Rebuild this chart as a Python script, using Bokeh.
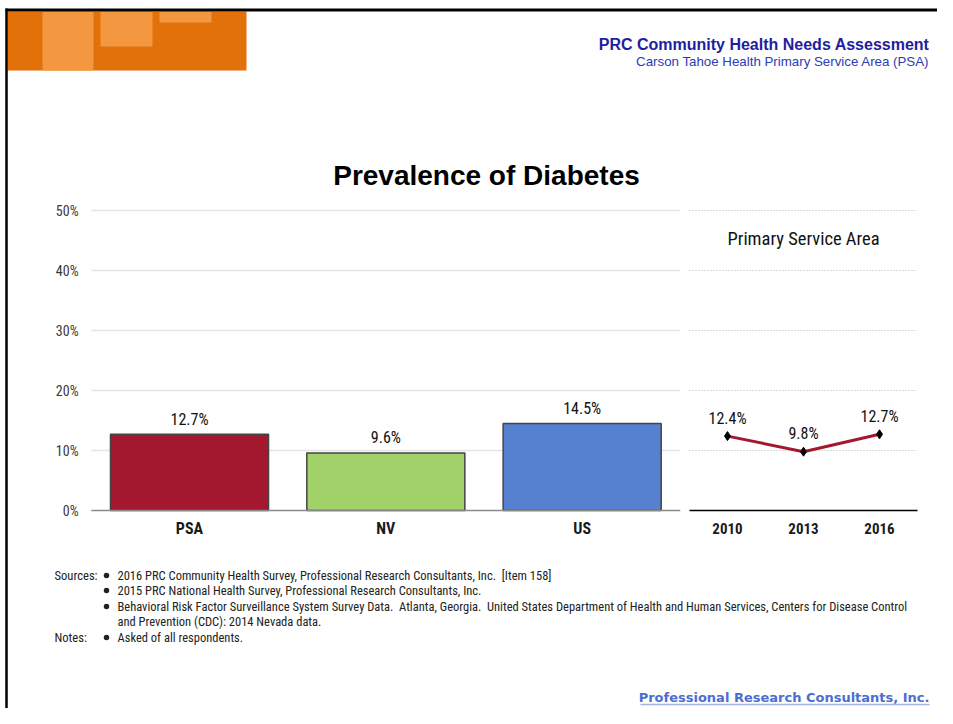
from bokeh.plotting import figure
from bokeh.models import Range1d
from bokeh.core.properties import value
from bokeh.embed import file_html
from bokeh.resources import INLINE

# ---------------- data ----------------
categories = ["PSA", "NV", "US"]
prevalence = [12.7, 9.6, 14.5]
bar_colors = ["#A3182F", "#A2D16A", "#5681D0"]

years = ["2010", "2013", "2016"]
psa_trend = [12.4, 9.8, 12.7]

y_ticks = [0, 10, 20, 30, 40, 50]
y_tick_labels = ["0%", "10%", "20%", "30%", "40%", "50%"]

chart_title = "Prevalence of Diabetes"
trend_title = "Primary Service Area"
header_title = "PRC Community Health Needs Assessment"
header_sub = "Carson Tahoe Health Primary Service Area (PSA)"
source_lines = [
    "2016 PRC Community Health Survey, Professional Research Consultants, Inc.\u00a0 [Item 158]",
    "2015 PRC National Health Survey, Professional Research Consultants, Inc.",
    "Behavioral Risk Factor Surveillance System Survey Data.\u00a0 Atlanta, Georgia.\u00a0 United States Department of Health and Human Services, Centers for Disease Control",
    "and Prevention (CDC): 2014 Nevada data.",
]
note_lines = ["Asked of all respondents."]
footer_text = "Professional Research Consultants, Inc."

# ---------------- layout ----------------
W, H = 937, 708
X0, Y0 = 0, 0                      # page origin (image coordinates)
NARROW = "'Liberation Sans Narrow', 'Arial Narrow', 'Roboto Condensed', 'DejaVu Sans Condensed', Roboto, sans-serif"
ARIAL = "'Liberation Sans', Arial, sans-serif"

zero_px, px_per_pct = 510, 6.0      # 0% baseline and scale
bar_c0, bar_step = 189, 196.33      # bar category centers
line_c0, line_step = 727, 76        # trend category centers

p = figure(width=W, height=H, output_backend="svg", toolbar_location=None,
           x_range=Range1d(X0, X0 + W), y_range=Range1d(Y0 + H, Y0),
           x_axis_location=None, y_axis_location=None,
           min_border=0, outline_line_color=None)
p.grid.visible = False
p.background_fill_color = "white"

p.extra_y_ranges = {"pct": Range1d(-(Y0 + H - zero_px) / px_per_pct, (zero_px - Y0) / px_per_pct)}
p.extra_x_ranges = {
    "bx": Range1d((X0 - bar_c0) / bar_step, (X0 + W - bar_c0) / bar_step),
    "lx": Range1d((X0 - line_c0) / line_step, (X0 + W - line_c0) / line_step),
}

# ---------------- page decoration ----------------
p.quad(left=[7], right=[246], top=[11], bottom=[70], fill_color="#E27109", line_color=None)
p.quad(left=[42, 100, 159], right=[93, 152, 211], top=[11, 11, 11], bottom=[70, 46, 22],
       fill_color="#F39740", line_color=None)
p.segment(x0=[5], y0=[9.5], x1=[W], y1=[9.5], line_color="black", line_width=3)
p.segment(x0=[6], y0=[8], x1=[6], y1=[H], line_color="black", line_width=2.5)

p.text(x=[929], y=[44], text=[header_title], text_align="right", text_baseline="middle",
       text_font=value(ARIAL), text_font_style="bold", text_font_size="16px", text_color="#1E1E9E")
p.text(x=[929], y=[61], text=[header_sub], text_align="right", text_baseline="middle",
       text_font=value(ARIAL), text_font_size="13.3px", text_color="#2B3CB4")

p.text(x=[486], y=[175], text=[chart_title], text_align="center", text_baseline="middle",
       text_font=value(ARIAL), text_font_style="bold", text_font_size="28px", text_color="black")

# ---------------- bar chart ----------------
p.segment(x0=[-0.5] * 5, x1=[2.5] * 5, y0=y_ticks[1:], y1=y_ticks[1:],
          x_range_name="bx", y_range_name="pct", line_color="#e4e4e4", line_width=1.5)
p.text(x=[78] * len(y_ticks), y=y_ticks, text=y_tick_labels, y_range_name="pct",
       text_align="right", text_baseline="middle", text_font=value(NARROW),
       text_font_size="14px", text_color="#3a3a3a")

p.vbar(x=list(range(len(categories))), top=prevalence, bottom=0, width=0.805,
       fill_color=bar_colors, line_color="#444444", line_width=1.5,
       x_range_name="bx", y_range_name="pct")
p.segment(x0=[-0.5], x1=[2.5], y0=[0], y1=[0], x_range_name="bx", y_range_name="pct",
          line_color="#8a8a8a", line_width=1.5)
p.text(x=list(range(len(categories))), y=prevalence, text=[f"{v:.1f}%" for v in prevalence],
       y_offset=-15, x_range_name="bx", y_range_name="pct",
       text_align="center", text_baseline="middle", text_font=value(NARROW),
       text_font_size="16px", text_color="#111111")
p.text(x=list(range(len(categories))), y=[528] * len(categories), text=categories,
       x_range_name="bx", text_align="center", text_baseline="middle",
       text_font=value(NARROW), text_font_style="bold", text_font_size="16px", text_color="#1a1a1a")

# ---------------- trend chart ----------------
p.segment(x0=[-0.5] * 5, x1=[2.5] * 5, y0=y_ticks[1:], y1=y_ticks[1:],
          x_range_name="lx", y_range_name="pct", line_color="#b4b4b4", line_width=1,
          line_dash="1 2")
p.segment(x0=[-0.5], x1=[2.5], y0=[0], y1=[0], x_range_name="lx", y_range_name="pct",
          line_color="black", line_width=1.5)
p.quad(left=[-0.5], right=[2.5], top=[48.5], bottom=[41.5], x_range_name="lx", y_range_name="pct",
       fill_color="white", line_color=None)
p.text(x=[1], y=[45.3], text=[trend_title], x_range_name="lx", y_range_name="pct",
       text_align="center", text_baseline="middle", text_font=value(NARROW),
       text_font_size="18.5px", text_color="#111111")
xi = list(range(len(years)))
p.line(x=xi, y=psa_trend, x_range_name="lx", y_range_name="pct", line_color="#A3182F", line_width=3)
p.scatter(x=xi, y=psa_trend, marker="diamond", size=9, fill_color="black", line_color="black",
          x_range_name="lx", y_range_name="pct")
p.text(x=xi, y=psa_trend, text=[f"{v:.1f}%" for v in psa_trend], y_offset=-18,
       x_range_name="lx", y_range_name="pct", text_align="center", text_baseline="middle",
       text_font=value(NARROW), text_font_size="16px", text_color="#111111")
p.text(x=xi, y=[528] * len(years), text=years, x_range_name="lx",
       text_align="center", text_baseline="middle", text_font=value(NARROW),
       text_font_style="bold", text_font_size="15px", text_color="#1a1a1a")

# ---------------- sources / notes ----------------
src_y = [575, 590, 606, 621]
note_y = [637]
p.text(x=[54], y=[575], text=["Sources:"], text_baseline="middle", text_font=value(NARROW),
       text_font_size="12.6px", text_color="#222222")
p.text(x=[54], y=note_y, text=["Notes:"], text_baseline="middle", text_font=value(NARROW),
       text_font_size="12.6px", text_color="#222222")
p.scatter(x=[106, 106, 106, 106], y=[575, 590, 606, 637], size=5.5, marker="circle",
          fill_color="#222222", line_color=None)
p.text(x=[117] * 4, y=src_y, text=source_lines, text_baseline="middle", text_font=value(NARROW),
       text_font_size="12.5px", text_color="#222222")
p.text(x=[117], y=note_y, text=note_lines, text_baseline="middle", text_font=value(NARROW),
       text_font_size="12.5px", text_color="#222222")

# ---------------- footer ----------------
p.text(x=[929], y=[697], text=[footer_text], text_align="right", text_baseline="middle",
       text_font=value("'DejaVu Sans', sans-serif"), text_font_style="bold",
       text_font_size="13px", text_color="#4A6ED2")
p.segment(x0=[640], x1=[929], y0=[704], y1=[704], line_color="#9FB3EA", line_width=1.5)

open("out.html", "w").write(file_html(p, INLINE))
